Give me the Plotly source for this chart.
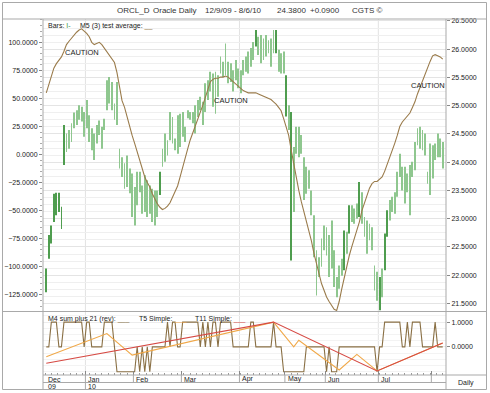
import plotly.graph_objects as go

# ---------------- data ----------------
bar_high = [22.12, 22.71, 22.88, 23.44, 23.46, 23.46, 23.21, 24.66, 24.51, 24.57, 24.69, 24.88, 24.92, 25.01, 24.98,
            24.89, 25.10, 24.83, 24.60, 24.51, 24.66, 24.74, 24.63, 24.77, 25.45, 25.51, 25.42, 25.04, 25.42, 24.24,
            24.09, 23.98, 24.12, 23.89, 23.80, 23.56, 23.83, 23.83, 23.59, 23.77, 23.68, 23.59, 23.53, 23.50, 23.50,
            23.83, 24.24, 24.51, 24.39, 24.89, 24.80, 24.42, 24.83,
            24.86, 24.89, 24.63, 24.92, 24.89, 24.89, 25.01, 25.10, 25.16, 25.07, 25.40, 25.45, 25.60, 25.57, 25.60,
            25.54, 25.87, 25.78, 26.10, 25.78, 25.75, 25.63, 25.81, 25.66, 25.63, 25.81, 25.87, 25.96, 26.02, 26.13,
            26.34, 26.22, 26.25, 26.19, 26.25, 26.16, 26.19, 26.34, 26.34, 25.99, 25.93, 25.96, 25.54, 25.01, 24.89,
            24.27, 24.63, 24.63, 24.48, 24.09, 23.92, 23.86,
            23.50, 23.06, 22.44, 22.32, 22.65, 22.88, 22.85, 22.71, 22.97, 22.44, 21.97, 22.17, 22.29, 22.79, 22.77,
            23.24, 23.24, 23.18, 23.27, 23.65, 23.47, 23.03, 22.97, 22.91, 22.85, 22.17, 22.06, 21.97, 22.12, 22.74,
            23.15, 23.33, 23.39, 23.47, 23.83, 24.15, 23.92, 23.92, 23.80, 23.95, 24.01, 24.36, 24.60, 24.63, 24.57,
            24.51, 23.83, 24.33, 24.30, 24.33, 24.51, 24.42, 24.36]
bar_low = [21.70, 22.29, 22.56, 22.94, 23.06, 23.12, 22.82, 23.95, 24.18, 24.24, 24.36, 24.60, 24.66, 24.75, 24.72,
           24.45, 24.60, 24.36, 24.21, 24.04, 24.33, 24.48, 24.24, 24.57, 24.92, 25.04, 24.92, 24.75, 24.66, 23.89,
           23.74, 23.53, 23.56, 23.45, 23.03, 22.88, 23.24, 23.47, 23.09, 23.12, 23.03, 23.09, 22.94, 22.88, 23.03,
           23.42, 23.92, 24.01, 24.12, 24.39, 24.33, 24.21, 24.15,
           24.27, 24.45, 24.36, 24.78, 24.75, 24.69, 24.51, 24.80, 24.92, 24.66, 24.89, 25.10, 25.25, 24.98, 24.86,
           25.16, 25.57, 25.51, 25.54, 25.40, 25.42, 25.25, 25.45, 25.31, 25.22, 25.54, 25.60, 25.57, 25.69, 25.81,
           26.05, 25.90, 25.75, 25.81, 25.87, 25.93, 25.69, 25.93, 25.93, 25.60, 25.57, 25.57, 24.81, 24.57, 22.26,
           23.12, 24.15, 24.09, 24.15, 23.33, 23.44, 23.53,
           23.06, 22.32, 21.64, 21.97, 22.15, 22.44, 22.35, 21.97, 22.12, 21.79, 21.61, 21.76, 21.99, 22.09, 22.38,
           22.74, 22.94, 22.91, 23.00, 23.03, 22.91, 22.68, 22.38, 22.62, 22.44, 21.73, 21.55, 21.38, 21.61, 22.09,
           22.68, 22.97, 23.12, 23.09, 23.39, 23.74, 23.50, 23.27, 23.47, 23.06, 23.74, 23.86, 24.30, 24.24, 24.21,
           24.12, 23.62, 23.42, 23.71, 24.04, 24.09, 24.09, 23.89]
# bars drawn in the darker shade
strong_bars = [0, 1, 2, 3, 4, 5, 6, 7, 45, 83, 91, 95, 97, 118, 120, 124, 132, 134, 135]

m5_avg = [55, 62, 71, 77, 81, 84, 87, 92, 98, 101, 104, 107, 109, 111, 112, 110, 108, 105, 100, 98,
          99, 100, 98, 95, 91, 88, 85, 82, 73, 60, 48, 42, 33, 25, 17, 10, 2, -5, -13, -20,
          -25, -29, -35, -40, -44, -47, -49, -48, -46, -43, -38, -33, -28, -20, -11, -2, 5, 13, 19, 25,
          31, 37, 44, 51, 59, 65, 67, 68, 68, 69, 69, 70, 69, 67, 65, 63, 61, 59, 57, 56,
          55, 55, 55, 55, 54, 53, 52, 51, 50, 49, 47, 45, 42, 39, 32, 24, 17, 4, -8, -22,
          -32, -42, -51, -58, -68, -77, -88, -97, -106, -115, -121, -127, -131, -135, -138, -139, -131, -120, -110, -97,
          -90, -82, -75, -68, -60, -50, -43, -35, -30, -26, -24, -24, -22, -20, -15, -9, -2, 4, 10, 17,
          25, 29, 32, 35, 37, 42, 47, 54, 60, 66, 72, 78, 83, 88, 89, 88, 87, 85]

m4_sum = [0, 0, 1, 1, 1, 0, 0, 1, 1, 1, 1, 1, 1, 1, 1, 0, 1, 1, 0, 0,
          0, 0, 0, 1, 1, 1, 1, 0, -1, -1, -1, -1, -1, -1, -1, -1, 0, -1, 0, -1,
          0, -1, 0, 0, 0, 0, 0, 0, 1, 0, 1, 1, 0, 0, 1, 1, 1, 1, 1, 1,
          1, 0, 1, 0, 1, 0, 1, 1, 0, 1, 1, 1, 1, 1, 0, 0, 0, 0, 0, 0,
          0, 1, 1, 0, 0, 0, 0, 0, 0, 0, 1, 0, 0, 0, -1, -1, -1, -1, -1, -1,
          -1, -1, -1, 0, 0, 0, 0, 0, 0, 0, 0, -1, 0, -1, -1, -1, 0, 0, 0, 0,
          0, 0, 0, 0, 0, 0, 0, 0, 0, 0, 0, -1, 0, 0, 1, 1, 1, 1, 1, 1,
          1, 0, 0, 1, 0, 1, 1, 1, 1, 0, 0, 0, 0, 0, 1, 0, 0, 0]

t5_days = [0, 24, 34, 90, 98, 100, 116, 123, 131, 157]
t5_vals = [-0.40, 0.54, -0.33, 1.0, 0.0, 0.27, -0.93, -0.30, -0.97, 0.16]
t11_days = [0, 90, 131, 157]
t11_vals = [-0.66, 1.0, -0.97, 0.16]

month_names = ["Dec", "Jan", "Feb", "Mar", "Apr", "May", "Jun", "Jul", "Aug"]
month_first_bar = [0, 16, 35, 54, 77, 95, 111, 132, 153]
year_labels = ["09", "10"]
year_first_bar = [0, 16]

price_ticks = [21.5, 22.0, 22.5, 23.0, 23.5, 24.0, 24.5, 25.0, 25.5, 26.0, 26.5]
m5_ticks = [-125, -100, -75, -50, -25, 0, 25, 50, 75, 100]
caution_marks = [(14, 25.95), (73, 25.10), (151, 25.35)]

# ---------------- geometry helpers ----------------
L, R, T, B = 43, 446, 19, 375
W, H = 490, 393


def PX(x):
    return (x - L) / (R - L)


def PY(y):
    return (B - y) / (B - T)


split = PY(311.5)
FONT = "Liberation Sans, Arial, Helvetica, sans-serif"

idx = list(range(len(bar_high)))
LIGHT, DARK = "#8fc78f", "#4f9d4f"
colors = [DARK if i in strong_bars else LIGHT for i in idx]

fig = go.Figure()
fig.add_trace(go.Bar(x=idx, y=[h - l for h, l in zip(bar_high, bar_low)], base=bar_low,
                     width=0.34, marker=dict(color=colors, line=dict(width=0)),
                     xaxis="x", yaxis="y", showlegend=False, hoverinfo="skip"))
fig.add_trace(go.Scatter(x=idx, y=m5_avg, mode="lines", line=dict(color="#9a7b4b", width=1.1),
                         xaxis="x", yaxis="y2", showlegend=False))
fig.add_trace(go.Scatter(x=idx, y=m4_sum, mode="lines", line=dict(color="#8a7045", width=1.1),
                         xaxis="x", yaxis="y3", showlegend=False))
fig.add_trace(go.Scatter(x=t5_days, y=t5_vals, mode="lines", line=dict(color="#f0a848", width=1.1),
                         xaxis="x", yaxis="y3", showlegend=False))
fig.add_trace(go.Scatter(x=t11_days, y=t11_vals, mode="lines", line=dict(color="#d64a44", width=1.1),
                         xaxis="x", yaxis="y3", showlegend=False))

tickfont = dict(family=FONT, size=7, color="#222")
fig.update_layout(
    width=W, height=H, margin=dict(l=L, r=W - R, t=T, b=H - B, autoexpand=False),
    paper_bgcolor="white", plot_bgcolor="white", showlegend=False, barmode="overlay",
    xaxis=dict(range=[-1.3, 158.3], anchor="y3", domain=[0, 1], showticklabels=False, showgrid=False,
               zeroline=False, showline=False, tickvals=[m - 0.5 for m in month_first_bar[1:]],
               ticks="inside", ticklen=4, tickcolor="#888", automargin=False,
               minor=dict(ticks="inside", ticklen=2, dtick=2.5, tick0=-0.5, tickcolor="#999")),
    yaxis=dict(domain=[split, 1], side="right", anchor="x", range=[21.358, 26.535], automargin=False,
               tickvals=price_ticks, tickformat=".4f", tickfont=tickfont, ticks="outside", ticklen=3,
               tickcolor="#888", showgrid=True, gridcolor="#e4e4e4", gridwidth=1, zeroline=False,
               minor=dict(dtick=0.125, tick0=21.5, showgrid=True, gridcolor="#efefef")),
    yaxis2=dict(overlaying="y", side="left", anchor="x", range=[-139.9, 120.8], tickvals=m5_ticks,
                automargin=False,
                tickformat=".4f", tickfont=tickfont, ticks="outside", ticklen=3, tickcolor="#888",
                showgrid=False, zeroline=False,
                minor=dict(ticks="outside", ticklen=2, dtick=5, tick0=0, tickcolor="#aaa")),
    yaxis3=dict(domain=[0, split], side="right", anchor="x", range=[-1.132, 1.428], tickvals=[0, 1],
                automargin=False,
                tickformat=".4f", tickfont=tickfont, ticks="outside", ticklen=3, tickcolor="#888",
                showgrid=True, gridcolor="#ececec", zeroline=False,
                minor=dict(dtick=0.25, tick0=0, showgrid=True, gridcolor="#f3f3f3")),
    yaxis4=dict(overlaying="y3", side="left", anchor="x", range=[20.870, 27.826], tickvals=[22.5, 25.0],
                automargin=False,
                tickformat=".4f", tickfont=tickfont, ticks="outside", ticklen=3, tickcolor="#888",
                showgrid=False, zeroline=False),
)

# ---------------- frame lines ----------------
shapes = []
LC = "#a9a9a9"


def hline(y, x0, x1, color=LC):
    shapes.append(dict(type="line", xref="paper", yref="paper", x0=PX(x0), x1=PX(x1), y0=PY(y), y1=PY(y),
                       line=dict(color=color, width=1)))


def vline(x, y0, y1, color=LC):
    shapes.append(dict(type="line", xref="paper", yref="paper", x0=PX(x), x1=PX(x), y0=PY(y0), y1=PY(y1),
                       line=dict(color=color, width=1)))


shapes.append(dict(type="rect", xref="paper", yref="paper", x0=PX(2.5), x1=PX(486.5), y0=PY(389.5), y1=PY(2.5),
                   line=dict(color=LC, width=1)))
hline(19, 2.5, 486.5)
hline(311.5, 2.5, 486.5)
hline(375, 43, 486.5)
hline(382.5, 43, 446)
vline(43, 19, 389.5)
vline(446, 19, 389.5)

# quarter grid lines
for name, m in zip(month_names, month_first_bar):
    if name in ("Jan", "Apr", "Jul"):
        shapes.append(dict(type="line", xref="x", yref="paper", x0=m - 0.5, x1=m - 0.5, y0=0, y1=1,
                           line=dict(color="#e2e2e2", width=1), layer="below"))
# month boundaries in label row
for m in month_first_bar[1:]:
    bottom = 389.5 if m in year_first_bar else 382.5
    shapes.append(dict(type="line", xref="x", yref="paper", x0=m - 0.5, x1=m - 0.5, y0=PY(375), y1=PY(bottom),
                       line=dict(color=LC, width=1)))
fig.update_layout(shapes=shapes)

# ---------------- text ----------------
ann = []


def text(x, y, s, size=7, xanchor="left", xref="paper", color="#222"):
    ann.append(dict(x=x, y=y, xref=xref, yref="paper", text=s, showarrow=False, xanchor=xanchor,
                    yanchor="middle", font=dict(family=FONT, size=size, color=color)))


for s, x in [("ORCL_D", 115), ("Oracle Daily", 150.7), ("12/9/09 - 8/6/10", 203), ("24.3800", 275),
             ("+0.0900", 308), ("CGTS ©", 350)]:
    text(PX(x), PY(11), s, size=8, color="#333")

text(PX(45.5), PY(26), "Bars: <span style='color:#3c963c'>I-</span>")
text(PX(77.5), PY(26), "M5 (3) test average: <span style='color:#9a7a48'>__</span>")
text(PX(45.5), PY(318.5), "M4 sum plus 21 (rev): <span style='color:#8a7045'>___</span>")
text(PX(136.5), PY(318.5), "T5 Simple: <span style='color:#f0a848'>___</span>")
text(PX(192.5), PY(318.5), "T11 Simple: <span style='color:#d64a44'>___</span>")

for cx, cy in caution_marks:
    ann.append(dict(x=cx, y=cy, xref="x", yref="y", text="CAUTION", showarrow=False, xanchor="center",
                    yanchor="middle", font=dict(family=FONT, size=7.5, color="#222")))

for name, m in zip(month_names[:-1], month_first_bar[:-1]):
    ann.append(dict(x=m - 0.5, y=PY(379), xref="x", yref="paper", text=name, showarrow=False,
                    xanchor="left", xshift=1, yanchor="middle",
                    font=dict(family=FONT, size=7, color="#222")))
for name, m in zip(year_labels, year_first_bar):
    ann.append(dict(x=m - 0.5, y=PY(386.5), xref="x", yref="paper", text=name, showarrow=False,
                    xanchor="left", xshift=1, yanchor="middle",
                    font=dict(family=FONT, size=7, color="#222")))
text(PX(466), PY(383), "Daily", xanchor="center")

fig.update_layout(annotations=ann)
fig.write_html("out.html", config={"displayModeBar": False},
               post_script="document.body.style.margin='0';document.body.style.padding='0';"
                           "document.documentElement.style.overflow='hidden';")
